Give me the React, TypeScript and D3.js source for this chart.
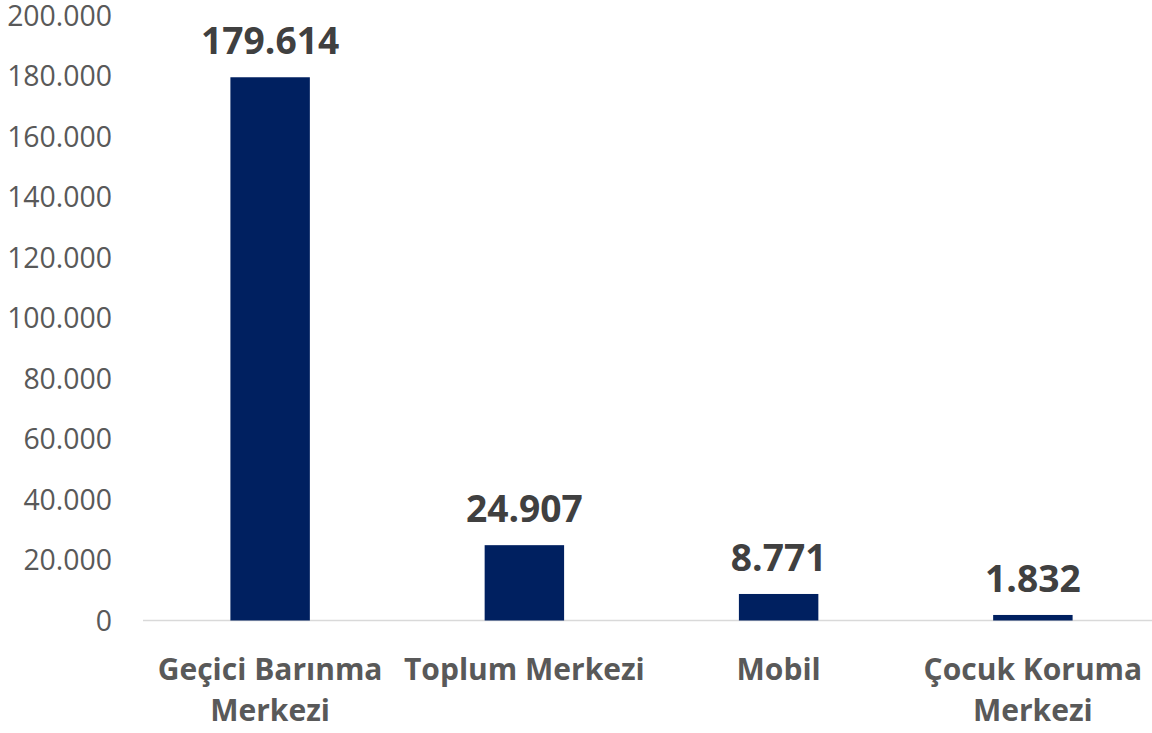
import React from "react";
import * as d3 from "d3";

const categories: string[][] = [
  ["Geçici Barınma", "Merkezi"],
  ["Toplum Merkezi"],
  ["Mobil"],
  ["Çocuk Koruma", "Merkezi"],
];
const values: number[] = [179614, 24907, 8771, 1832];
const yTicks: number[] = [0, 20000, 40000, 60000, 80000, 100000, 120000, 140000, 160000, 180000, 200000];

const W = 1152;
const H = 733;
const fmt = (v: number) => d3.format(",")(v).replace(/,/g, ".");

export default function App() {
  const keys = categories.map((c) => c.join(" "));
  const x = d3.scaleBand<string>().domain(keys).range([143, 1160]).paddingInner(0.6875).paddingOuter(0.34375);
  const y = d3.scaleLinear().domain([0, 200000]).range([620.5, 15.6]);
  const font = "'Open Sans', sans-serif";
  return (
    <svg width={W} height={H} style={{ position: "absolute", left: 0, top: 0, background: "#fff" }}>
      {yTicks.map((t) => (
        <text key={t} x={112} y={y(t)} dy="0.36em" textAnchor="end" fontFamily={font} fontSize={28.4} fill="#595959">
          {fmt(t)}
        </text>
      ))}
      <line x1={143} x2={1152} y1={y(0)} y2={y(0)} stroke="#d9d9d9" strokeWidth={1.5} />
      {values.map((v, i) => {
        const k = keys[i];
        const bx = x(k)!;
        const bw = x.bandwidth();
        const cx = bx + bw / 2;
        return (
          <g key={k}>
            <rect x={bx} y={y(v)} width={bw} height={y(0) - y(v)} fill="#002060" />
            <text x={cx} y={y(v) - 23} textAnchor="middle" fontFamily={font} fontWeight="bold" fontSize={37.2} fill="#404040">
              {fmt(v)}
            </text>
            {categories[i].map((line, j) => (
              <text key={j} x={cx} y={680 + j * 41} textAnchor="middle" fontFamily={font} fontWeight="bold" fontSize={30} fill="#595959">
                {line}
              </text>
            ))}
          </g>
        );
      })}
    </svg>
  );
}
